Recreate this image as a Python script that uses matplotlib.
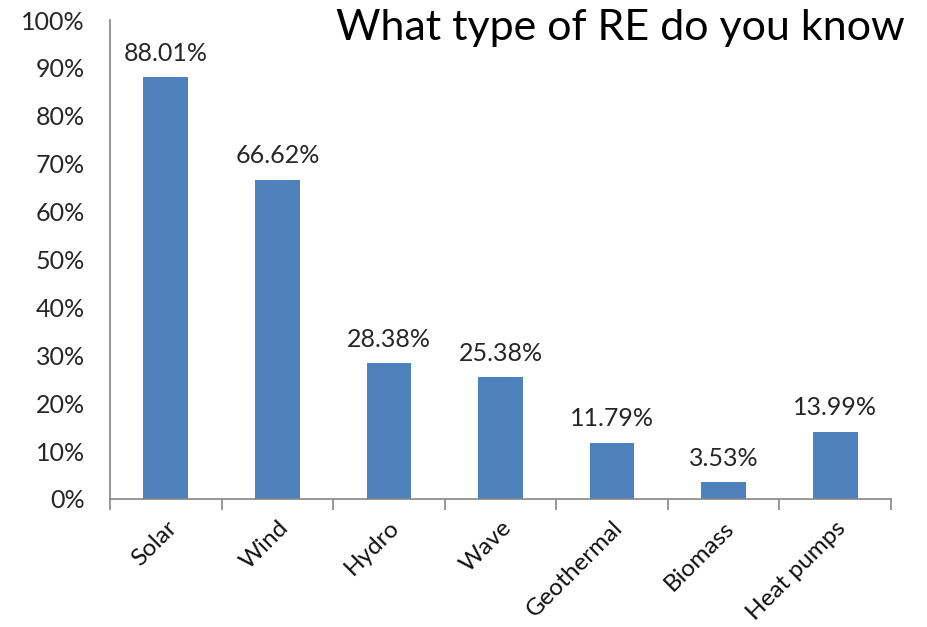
import matplotlib
matplotlib.use("Agg")
import matplotlib.pyplot as plt
import numpy as np
from matplotlib.ticker import FuncFormatter, FixedLocator

categories = ["Solar", "Wind", "Hydro", "Wave", "Geothermal", "Biomass", "Heat pumps"]
values = [88.01, 66.62, 28.38, 25.38, 11.79, 3.53, 13.99]
title = "What type of RE do you know"

plt.rcParams['font.family'] = ['Lato', 'DejaVu Sans']

fig = plt.figure(figsize=(9.27, 6.27), dpi=100)
ax = fig.add_axes([110/927, 1-499/627, 781/927, 479/627])

x = np.arange(len(categories))
bars = ax.bar(x, values, width=0.4, color="#4F81BD", zorder=2)

ax.set_xlim(-0.5, len(categories) - 0.5)
ax.set_ylim(0, 100)
ax.yaxis.set_major_locator(FixedLocator(np.arange(0, 101, 10)))
ax.yaxis.set_major_formatter(FuncFormatter(lambda v, p: f"{int(v)}%"))
ax.tick_params(axis='y', length=0, labelsize=18, pad=18, colors="#262626")

ax.set_xticks(x)
ax.set_xticklabels(categories, rotation=45, ha='right', rotation_mode='anchor', fontsize=17.5, color="#111111")
ax.tick_params(axis='x', length=0, pad=13)
ax.set_xticks(np.arange(-0.5, len(categories), 1.0), minor=True)
ax.tick_params(axis='x', which='minor', length=8, width=1.2, color="#868686")

for s in ["top", "right"]:
    ax.spines[s].set_visible(False)
for s in ["left", "bottom"]:
    ax.spines[s].set_color("#868686")
    ax.spines[s].set_linewidth(1.2)

for xi, v in zip(x, values):
    ax.annotate(f"{v:.2f}%", (xi, v), xytext=(0, 9), textcoords="offset points",
                ha='center', va='bottom', fontsize=18, color="#262626")

fig.text(905/927, 1-28/627, title, ha='right', va='center', fontsize=31, color="black")

fig.savefig("out.png", dpi=100)
